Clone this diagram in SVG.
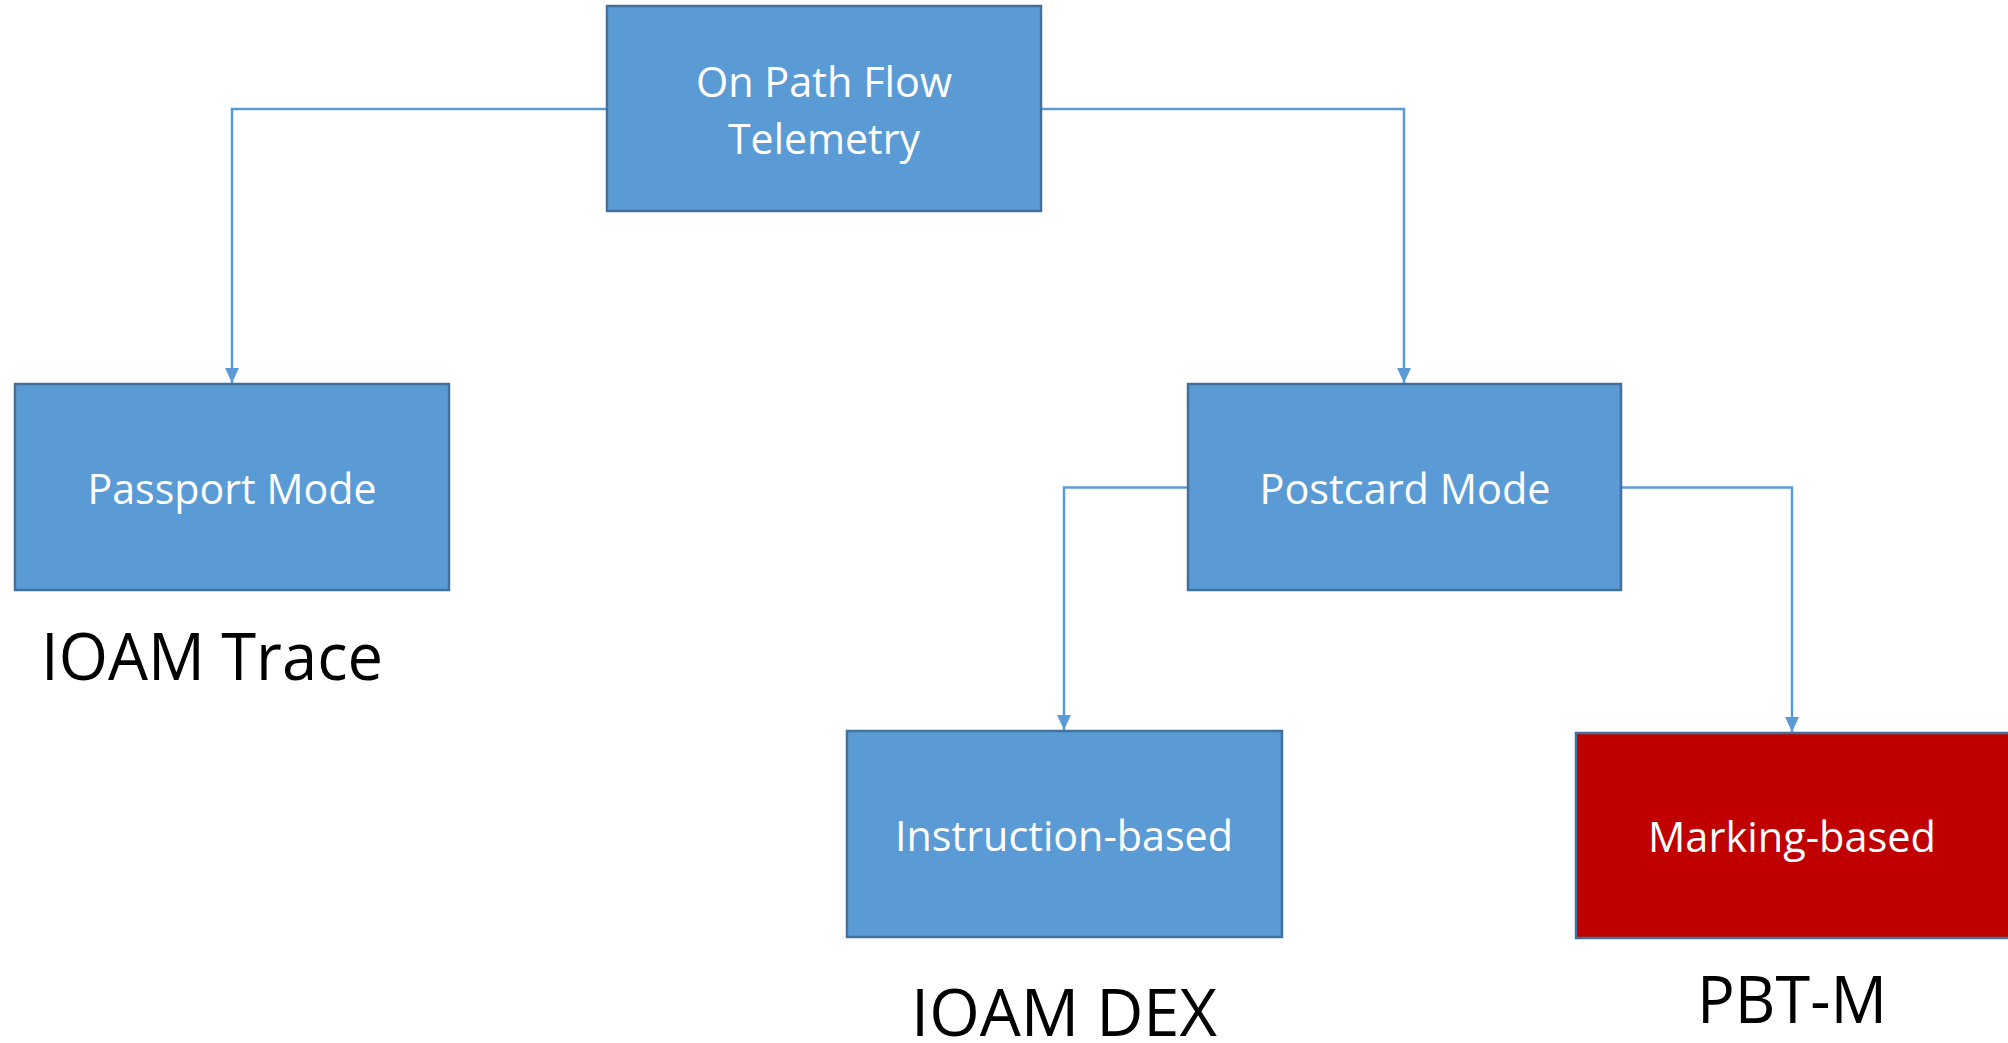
<svg xmlns="http://www.w3.org/2000/svg" width="2008" height="1043" viewBox="0 0 2008 1043">
  <style>
    .box { fill: #5B9BD5; stroke: #41719C; stroke-width: 2.5; }
    .box.red { fill: #C00000; }
    .label { font-family: "Open Sans", "Liberation Sans", sans-serif; font-size: 42px; fill: #FFFFFF; text-anchor: middle; }
    .caption { font-family: "Open Sans", "Liberation Sans", sans-serif; font-size: 66px; fill: #000000; }
    .edge { fill: none; stroke: #5B9BD5; stroke-width: 2.5; }
  </style>
  <defs>
    <marker id="arrow" markerUnits="userSpaceOnUse" markerWidth="15" markerHeight="14" refX="15" refY="7" orient="auto">
      <path d="M0,0 L15,7 L0,14 z" fill="#5B9BD5"/>
    </marker>
  </defs>
  <rect width="2008" height="1043" fill="#FFFFFF"/>

  <g id="connectors">
    <path class="edge" d="M607,109 H232 V383" marker-end="url(#arrow)"/>
    <path class="edge" d="M1041,109 H1404 V383" marker-end="url(#arrow)"/>
    <path class="edge" d="M1188,487.5 H1064 V730" marker-end="url(#arrow)"/>
    <path class="edge" d="M1621,487.5 H1792 V732" marker-end="url(#arrow)"/>
  </g>

  <g id="on-path-flow-telemetry">
    <rect class="box" x="607" y="6" width="434" height="205"/>
    <text class="label" x="824" y="97" textLength="256" lengthAdjust="spacingAndGlyphs">On Path Flow</text>
    <text class="label" x="824" y="154" textLength="192" lengthAdjust="spacingAndGlyphs">Telemetry</text>
  </g>

  <g id="passport-mode">
    <rect class="box" x="15" y="384" width="434" height="206"/>
    <text class="label" x="232" y="504" textLength="289" lengthAdjust="spacingAndGlyphs">Passport Mode</text>
  </g>

  <g id="postcard-mode">
    <rect class="box" x="1188" y="384" width="433" height="206"/>
    <text class="label" x="1405" y="504" textLength="291" lengthAdjust="spacingAndGlyphs">Postcard Mode</text>
  </g>

  <g id="instruction-based">
    <rect class="box" x="847" y="731" width="435" height="206"/>
    <text class="label" x="1064" y="851" textLength="338" lengthAdjust="spacingAndGlyphs">Instruction-based</text>
  </g>

  <g id="marking-based">
    <rect class="box red" x="1576" y="733" width="435" height="205"/>
    <text class="label" x="1792" y="852" textLength="288" lengthAdjust="spacingAndGlyphs">Marking-based</text>
  </g>

  <g id="captions">
    <text class="caption" x="41" y="680" textLength="342" lengthAdjust="spacingAndGlyphs">IOAM Trace</text>
    <text class="caption" x="911" y="1036" textLength="306" lengthAdjust="spacingAndGlyphs">IOAM DEX</text>
    <text class="caption" x="1697" y="1023" textLength="190" lengthAdjust="spacingAndGlyphs">PBT-M</text>
  </g>
</svg>
